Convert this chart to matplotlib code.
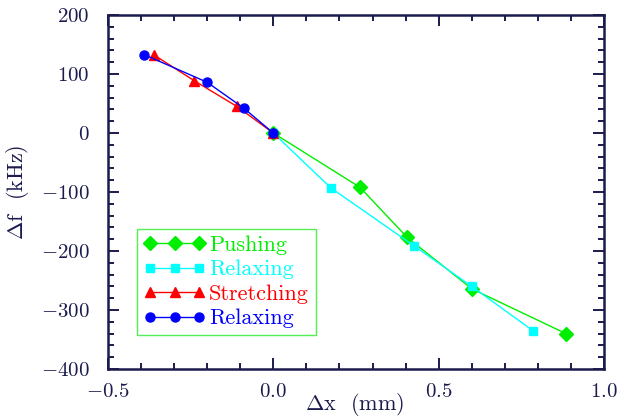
import matplotlib
matplotlib.use("Agg")
from matplotlib import pyplot as plt
from matplotlib.ticker import MultipleLocator

plt.rcParams["font.family"] = "cmr10"
plt.rcParams["mathtext.fontset"] = "cm"
plt.rcParams["axes.formatter.use_mathtext"] = True

ink = "#1b1b4d"

# pushing (green diamonds)
push_x = [0.0, 0.262, 0.405, 0.60, 0.885]
push_y = [0, -92, -177, -264, -340]
# relaxing after push (cyan squares)
relax1_x = [0.0, 0.174, 0.425, 0.60, 0.785]
relax1_y = [0, -93, -191, -260, -335]
# stretching (red triangles)
stretch_x = [0.0, -0.11, -0.24, -0.36]
stretch_y = [0, 45, 89, 132]
# relaxing after stretch (blue circles)
relax2_x = [0.0, -0.089, -0.20, -0.391]
relax2_y = [0, 42, 86, 133]

fig = plt.figure(figsize=(6.3, 4.18), dpi=100)
ax = fig.add_axes([0.1714, 0.1172, 0.7873, 0.8468])

ax.plot(push_x, push_y, "-D", color="#00ee00", ms=7, lw=1, label="Pushing")
ax.plot(relax1_x, relax1_y, "-s", color="cyan", ms=6, lw=1, label="Relaxing")
ax.plot(stretch_x, stretch_y, "-^", color="red", ms=7, lw=1, label="Stretching")
ax.plot(relax2_x, relax2_y, "-o", color="blue", ms=6.5, lw=1, label="Relaxing")

ax.set_xlim(-0.5, 1.0)
ax.set_ylim(-400, 200)
ax.xaxis.set_major_locator(MultipleLocator(0.5))
ax.xaxis.set_minor_locator(MultipleLocator(0.1))
ax.yaxis.set_major_locator(MultipleLocator(100))
ax.yaxis.set_minor_locator(MultipleLocator(20))
ax.tick_params(which="both", direction="in", top=True, right=True, colors=ink,
               labelsize=15, width=1.4)
ax.tick_params(which="major", length=8)
ax.tick_params(which="minor", length=4)
ax.tick_params(axis="x", which="major", pad=10)
ax.tick_params(axis="y", which="major", pad=13)
ax.xaxis.set_major_formatter(lambda v, p: f"${v:.1f}$")
ax.yaxis.set_major_formatter(lambda v, p: f"${v:.0f}$")
for s in ax.spines.values():
    s.set_color(ink)
    s.set_linewidth(1.8)

ax.set_xlabel(r"$\Delta$x  (mm)", fontsize=16, color=ink)
ax.xaxis.set_label_coords(0.498, -0.063)
ax.set_ylabel(r"$\Delta$f  (kHz)", fontsize=16, color=ink)
ax.yaxis.set_label_coords(-0.155, 0.5)

leg = ax.legend(loc="lower left", bbox_to_anchor=(0.058, 0.096), numpoints=3,
                fontsize=16, handlelength=2.8, handletextpad=0.15,
                labelspacing=0.22, borderpad=0.3, fancybox=False,
                borderaxespad=0, framealpha=1)
leg.get_frame().set_edgecolor("#55ee55")
leg.get_frame().set_linewidth(1)
for t, line in zip(leg.get_texts(), leg.get_lines()):
    t.set_color(line.get_color())

fig.savefig("out.png", dpi=100)
